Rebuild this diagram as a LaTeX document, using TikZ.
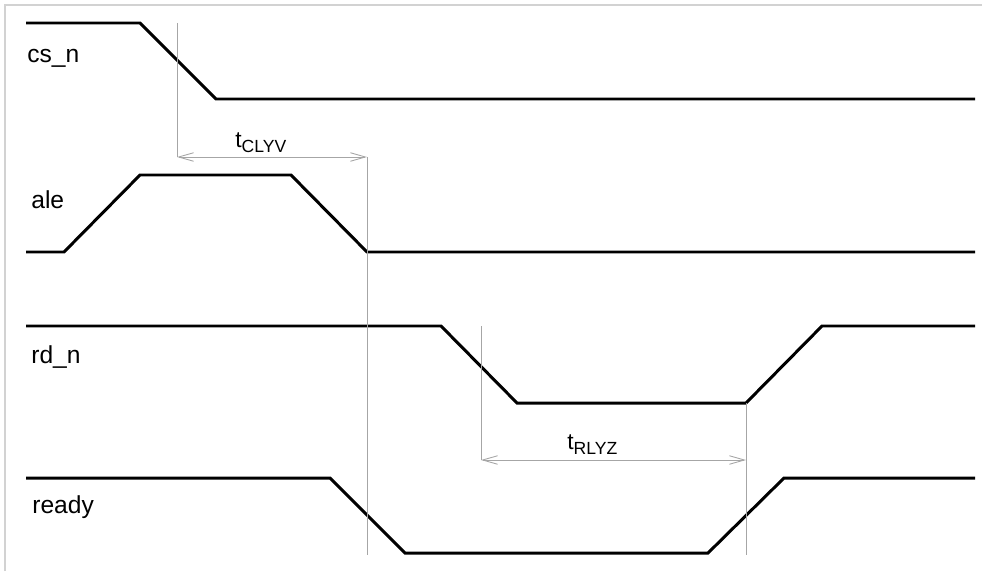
\documentclass[tikz,border=0pt]{standalone}
\usepackage{fontspec}
\setmainfont{Liberation Sans}
\usetikzlibrary{arrows.meta}
\newcommand{\tsub}[1]{t\raisebox{-3.4pt}{\fontsize{10}{12}\selectfont #1}}
\tikzset{
  signal/.style={line width=1.7pt, line join=miter},
  guide/.style={gray!70, line width=0.5pt},
  span/.style={gray!70, line width=0.5pt, {Straight Barb[length=3mm,width=1.7mm]}-{Straight Barb[length=3mm,width=1.7mm]}},
  signame/.style={anchor=base west, inner sep=0pt, font=\fontsize{14}{16}\selectfont},
  timename/.style={anchor=base west, inner sep=0pt, font=\fontsize{13}{15}\selectfont}
}
\begin{document}
\begin{tikzpicture}[x=0.02cm, y=-0.02cm]
    \useasboundingbox (0,0) rectangle (982,571);

    % Rahmen
    \draw[gray!35, line width=0.6pt] (5,571) -- (5,5) -- (982,5);

    % Signale
    \draw[signal] (26,23) -- (140,23) -- (216,99) -- (975,99);
    \draw[signal] (26,252) -- (64,252) -- (140,175) -- (291,175) -- (367,252) -- (975,252);
    \draw[signal] (26,326) -- (441,326) -- (517,403) -- (746,403) -- (822,326) -- (975,326);
    \draw[signal] (26,478) -- (330,478) -- (405,553) -- (708,553) -- (784,478) -- (975,478);

    % Namen
    \node[signame] (csn) at (27,63) {cs\_n};
    \node[signame] (ale) at (31,208) {ale};
    \node[signame] (rdn) at (31,363) {rd\_n};
    \node[signame] (rdy) at (32,513) {ready};

    % Hilfslinien
    \coordinate (c1) at (177,157);
    \coordinate (c2) at (367,157);
    \coordinate (r1) at (481,460);
    \coordinate (r2) at (746,460);
    \draw[guide] (177,23) -- (c1);
    \draw[guide] (c2) -- (367,555);
    \draw[guide] (481,326) -- (r1);
    \draw[guide] (746,403) -- (r2) -- (746,555);

    % Zeiten
    \draw[span] (c1) -- (c2);
    \draw[span] (r1) -- (r2);
    \node[timename] (tclyv) at (235,147) {\tsub{CLYV}};
    \node[timename] (trlyz) at (567,449) {\tsub{RLYZ}};
\end{tikzpicture}
\end{document}
